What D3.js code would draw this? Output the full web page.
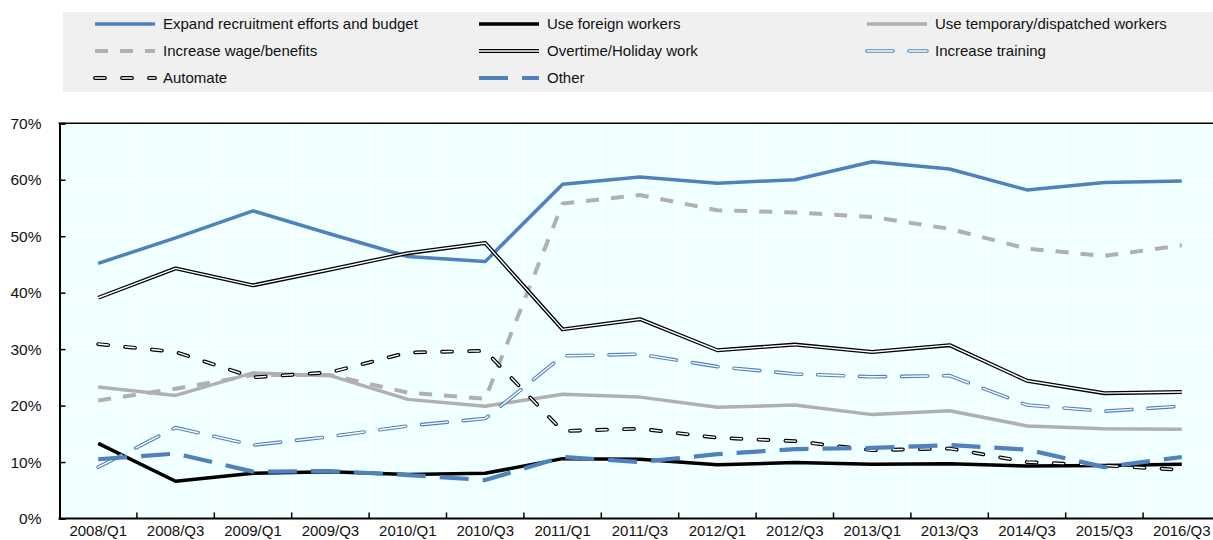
<!DOCTYPE html>
<html>
<head>
<meta charset="utf-8">
<script src="https://cdn.jsdelivr.net/npm/d3@7"></script>
<style>
  html, body { margin: 0; padding: 0; background: #fff; }
  svg { display: block; font-family: "Liberation Sans", Arial, sans-serif; }
</style>
</head>
<body>
<svg id="chart" width="1213" height="540"></svg>
<script>
// Quarterly survey: share of firms taking each measure against labour shortages (%)
const quarters = ["2008/Q1","2008/Q3","2009/Q1","2009/Q3","2010/Q1","2010/Q3","2011/Q1","2011/Q3","2012/Q1","2012/Q3","2013/Q1","2013/Q3","2014/Q3","2015/Q3","2016/Q3"];

const expandRecruitment = [45.2,49.7,54.5,50.4,46.4,45.5,59.2,60.5,59.4,60.0,63.2,61.9,58.2,59.5,59.8];
const useForeignWorkers = [13.3,6.6,8.0,8.3,7.8,8.0,10.6,10.5,9.5,9.9,9.6,9.7,9.3,9.4,9.6];
const useTemporaryWorkers = [23.3,21.8,25.8,25.3,21.1,19.9,22.0,21.5,19.7,20.1,18.4,19.1,16.4,15.9,15.8];
const increaseWage = [20.9,23.0,25.4,25.4,22.3,21.2,55.8,57.3,54.6,54.2,53.4,51.3,47.8,46.5,48.4];
const overtimeWork = [39.1,44.3,41.3,44.1,47.0,48.8,33.5,35.3,29.8,30.8,29.5,30.7,24.4,22.2,22.4];
const increaseTraining = [9.1,16.1,13.0,14.5,16.4,17.7,28.8,29.1,26.9,25.6,25.1,25.3,20.1,19.0,19.9];
const automate = [30.9,29.5,25.0,25.9,29.4,29.7,15.5,15.9,14.3,13.7,12.1,12.4,10.0,9.4,8.6];
const other = [10.5,11.5,8.3,8.4,7.7,6.8,10.9,10.0,11.4,12.3,12.5,13.0,12.2,9.1,10.9];

const yTicks = [0,10,20,30,40,50,60,70];

const BLUE = "#4F81BD", GREY = "#B0B0B0", BLACK = "#000000";

// Each series: a base stroke, optionally with a thin white core to give the "outlined" look
const series = [
  { name: "Expand recruitment efforts and budget", values: expandRecruitment, color: BLUE, width: 3.5 },
  { name: "Use foreign workers", values: useForeignWorkers, color: BLACK, width: 3.5 },
  { name: "Use temporary/dispatched workers", values: useTemporaryWorkers, color: GREY, width: 3.5 },
  { name: "Increase wage/benefits", values: increaseWage, color: GREY, width: 4, dash: "13,12", cap: "butt" },
  { name: "Overtime/Holiday work", values: overtimeWork, color: BLACK, width: 4, core: "#ffffff", coreWidth: 1.4 },
  { name: "Increase training", values: increaseTraining, color: BLUE, width: 3.6, dash: "26,16", cap: "round", core: "#ffffff", coreWidth: 1.4 },
  { name: "Automate", values: automate, color: BLACK, width: 3.8, dash: "10,17", cap: "round", core: "#ffffff", coreWidth: 1.4 },
  { name: "Other", values: other, color: BLUE, width: 4.2, dash: "29,14", cap: "butt" }
];

const svg = d3.select("#chart");

const left = 59.5, bandW = 77.4;
const x = d3.scaleBand().domain(quarters).range([left, left + bandW * quarters.length]).padding(0);
const y = d3.scaleLinear().domain([0, 70]).range([518.5, 123.3]);
const plotRight = left + bandW * quarters.length;

// Plot background
svg.append("rect")
  .attr("x", left).attr("y", y(70))
  .attr("width", plotRight - left).attr("height", y(0) - y(70))
  .attr("fill", "#F0FFFF");

// Gridlines
const grid = svg.append("g");
grid.selectAll("line.h").data(yTicks.filter(d => d > 0 && d < 70)).join("line")
  .attr("x1", left).attr("x2", plotRight)
  .attr("y1", d => y(d)).attr("y2", d => y(d))
  .attr("stroke", "#ffffff").attr("stroke-width", 1.5);
grid.selectAll("line.v").data(quarters.slice(1)).join("line")
  .attr("x1", d => x(d)).attr("x2", d => x(d))
  .attr("y1", y(70)).attr("y2", y(0))
  .attr("stroke", "#ffffff").attr("stroke-width", 1.2);

// Axes
const yAxis = d3.axisLeft(y).tickValues(yTicks).tickFormat(d => d + "%").tickSize(-6).tickPadding(18);
const gy = svg.append("g").attr("transform", `translate(${left},0)`).call(yAxis);
gy.select(".domain").attr("stroke", "#000").attr("stroke-width", 2);
gy.selectAll(".tick line").attr("stroke", "#000").attr("stroke-width", 1.5);
gy.selectAll(".tick text").attr("font-size", 15.5).attr("fill", "#111")
  .attr("font-family", "'Liberation Sans', Arial, sans-serif");

const xAxis = d3.axisBottom(x).tickSize(0).tickPadding(7);
const gx = svg.append("g").attr("transform", `translate(0,${y(0)})`).call(xAxis);
gx.select(".domain").remove();
gx.selectAll(".tick text").attr("font-size", 15).attr("fill", "#111")
  .attr("font-family", "'Liberation Sans', Arial, sans-serif");

// Inward ticks at band boundaries
svg.append("g").selectAll("line").data(quarters.slice(1)).join("line")
  .attr("x1", d => x(d)).attr("x2", d => x(d))
  .attr("y1", y(0)).attr("y2", y(0) - 6)
  .attr("stroke", "#000").attr("stroke-width", 1.5);

// Frame lines: bottom and top
svg.append("line").attr("x1", left - 1).attr("x2", plotRight).attr("y1", y(0)).attr("y2", y(0))
  .attr("stroke", "#000").attr("stroke-width", 2);
svg.append("line").attr("x1", left - 1).attr("x2", plotRight).attr("y1", y(70)).attr("y2", y(70))
  .attr("stroke", "#000").attr("stroke-width", 1.5);

// Series lines
const line = d3.line()
  .x((d, i) => x(quarters[i]) + x.bandwidth() / 2)
  .y(d => y(d));

const gLines = svg.append("g");
series.forEach(s => {
  gLines.append("path")
    .attr("d", line(s.values))
    .attr("fill", "none")
    .attr("stroke", s.color)
    .attr("stroke-width", s.width)
    .attr("stroke-linejoin", "round")
    .attr("stroke-linecap", s.cap || "butt")
    .attr("stroke-dasharray", s.dash || null);
  if (s.core) {
    gLines.append("path")
      .attr("d", line(s.values))
      .attr("fill", "none")
      .attr("stroke", s.core)
      .attr("stroke-width", s.coreWidth)
      .attr("stroke-linejoin", "round")
      .attr("stroke-linecap", s.cap || "butt")
      .attr("stroke-dasharray", s.dash || null);
  }
});

// Legend
const legend = svg.append("g");
legend.append("rect").attr("x", 63).attr("y", 12).attr("width", 1160).attr("height", 80).attr("fill", "#F0F0F0");

const colX = [95, 479, 867];
const rowY = [24, 51, 78];
series.forEach((s, i) => {
  const cx = colX[i % 3], cy = rowY[Math.floor(i / 3)];
  const g = legend.append("g");
  const drawSeg = (color, w) => g.append("line")
    .attr("x1", cx).attr("x2", cx + 60).attr("y1", cy).attr("y2", cy)
    .attr("stroke", color).attr("stroke-width", w)
    .attr("stroke-linecap", s.cap || "butt")
    .attr("stroke-dasharray", s.dash || null);
  drawSeg(s.color, s.width);
  if (s.core) drawSeg(s.core, s.coreWidth);
  g.append("text")
    .attr("x", cx + 68).attr("y", cy).attr("dy", "0.35em")
    .attr("font-size", 15).attr("fill", "#111")
    .text(s.name);
});
</script>
</body>
</html>
